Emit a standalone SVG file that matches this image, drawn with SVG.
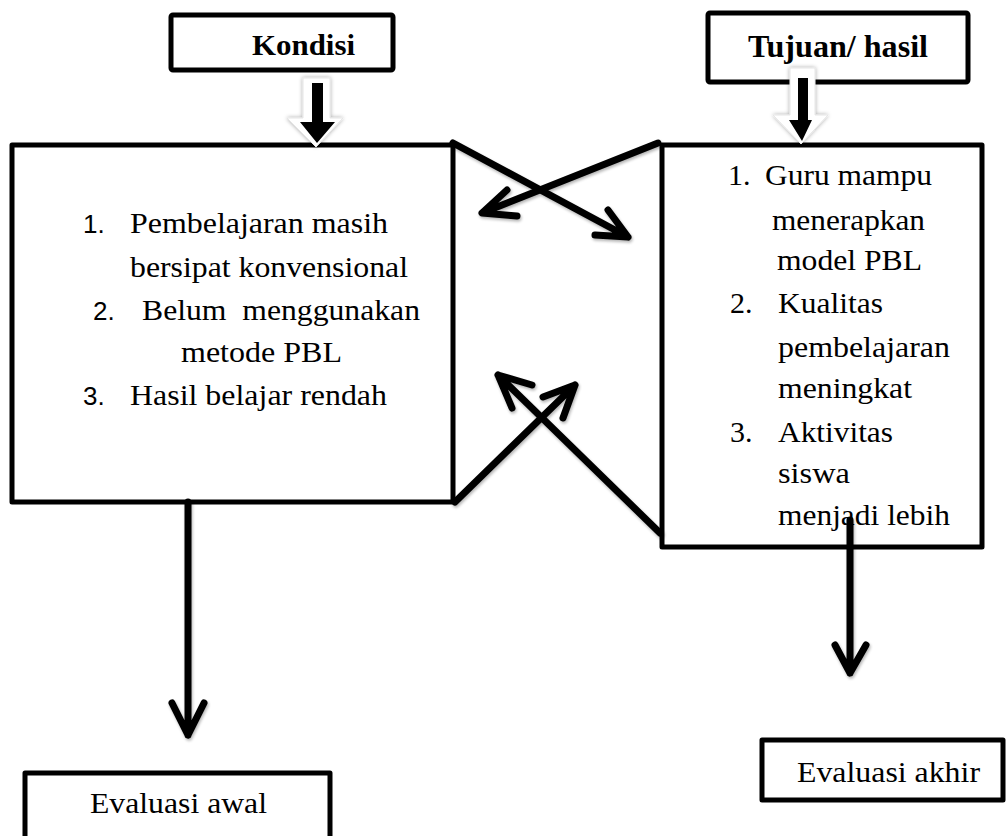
<svg xmlns="http://www.w3.org/2000/svg" width="1007" height="836" viewBox="0 0 1007 836">
<defs>
<filter id="glow" x="-30%" y="-30%" width="160%" height="160%">
<feGaussianBlur in="SourceAlpha" stdDeviation="2"/>
<feComponentTransfer><feFuncA type="linear" slope="0.35"/></feComponentTransfer>
<feMerge><feMergeNode/><feMergeNode in="SourceGraphic"/></feMerge>
</filter>
<filter id="shadow" x="-10%" y="-10%" width="120%" height="120%">
<feGaussianBlur in="SourceAlpha" stdDeviation="1.5"/>
<feOffset dx="1" dy="2"/>
<feComponentTransfer><feFuncA type="linear" slope="0.3"/></feComponentTransfer>
<feMerge><feMergeNode/><feMergeNode in="SourceGraphic"/></feMerge>
</filter>
</defs>
<style>
.box{fill:#fff;stroke:#000;stroke-width:5;stroke-linejoin:round}
.t{font-family:'Liberation Serif';font-size:30px;fill:#000;white-space:pre}
.b{font-weight:bold}
.n{font-family:'Liberation Sans';font-size:26px;fill:#000}
.c{fill:none;stroke:#000;stroke-width:7;stroke-linecap:round;stroke-linejoin:round}
</style>
<rect width="1007" height="836" fill="#fff"/>

<g id="kondisi">
<rect class="box" x="171" y="15" width="222" height="55" rx="2"/>
<text class="t b" x="252" y="55" textLength="103" lengthAdjust="spacingAndGlyphs">Kondisi</text>
</g>

<g id="tujuan">
<rect class="box" x="708" y="13" width="260" height="69" rx="2"/>
<text class="t b" x="748" y="57" style="font-size:32px" textLength="180" lengthAdjust="spacingAndGlyphs">Tujuan/ hasil</text>
</g>

<g id="kondisi-list">
<rect class="box" x="12" y="145" width="441" height="357"/>
<text class="n" x="83" y="233">1.</text>
<text class="t" x="130" y="233" textLength="258" lengthAdjust="spacingAndGlyphs">Pembelajaran masih</text>
<text class="t" x="130" y="277" textLength="278" lengthAdjust="spacingAndGlyphs">bersipat konvensional</text>
<text class="n" x="93" y="320">2.</text>
<text class="t" x="142" y="320" textLength="278" lengthAdjust="spacingAndGlyphs">Belum  menggunakan</text>
<text class="t" x="181" y="362" textLength="161" lengthAdjust="spacingAndGlyphs">metode PBL</text>
<text class="n" x="83" y="405">3.</text>
<text class="t" x="130" y="405" textLength="257" lengthAdjust="spacingAndGlyphs">Hasil belajar rendah</text>
</g>

<g id="tujuan-list">
<rect class="box" x="662" y="145" width="320" height="402"/>
<text class="t" x="728" y="185">1.</text>
<text class="t" x="765" y="185" textLength="167" lengthAdjust="spacingAndGlyphs">Guru mampu</text>
<text class="t" x="772" y="230" textLength="153" lengthAdjust="spacingAndGlyphs">menerapkan</text>
<text class="t" x="777" y="270" textLength="145" lengthAdjust="spacingAndGlyphs">model PBL</text>
<text class="t" x="730" y="313">2.</text>
<text class="t" x="778" y="313" textLength="105" lengthAdjust="spacingAndGlyphs">Kualitas</text>
<text class="t" x="778" y="357" textLength="172" lengthAdjust="spacingAndGlyphs">pembelajaran</text>
<text class="t" x="778" y="398" textLength="134" lengthAdjust="spacingAndGlyphs">meningkat</text>
<text class="t" x="730" y="442">3.</text>
<text class="t" x="778" y="442" textLength="115" lengthAdjust="spacingAndGlyphs">Aktivitas</text>
<text class="t" x="778" y="483" textLength="72" lengthAdjust="spacingAndGlyphs">siswa</text>
<text class="t" x="778" y="525" textLength="172" lengthAdjust="spacingAndGlyphs">menjadi lebih</text>
</g>

<g id="evaluasi-awal">
<rect class="box" x="25" y="773" width="305" height="90"/>
<text class="t" x="90" y="813" textLength="177" lengthAdjust="spacingAndGlyphs">Evaluasi awal</text>
</g>

<g id="evaluasi-akhir">
<rect class="box" x="762" y="740" width="241" height="60"/>
<text class="t" x="797" y="782" textLength="183" lengthAdjust="spacingAndGlyphs">Evaluasi akhir</text>
</g>

<g id="connectors">
<g filter="url(#glow)">
<path d="M303 78 H330 V118 H343 L316 147 L287 118 H303 Z" fill="#fff" stroke="#e6e6e6" stroke-width="1"/>
<path d="M790 68 H815 V115 H828 L801 144 L773 115 H790 Z" fill="#fff" stroke="#e6e6e6" stroke-width="1"/>
</g>
<path d="M312 83 H323 V122 H335 L317 143 L300 122 H312 Z" fill="#000"/>
<path d="M798 78 H808 V120 H812 L802 141 L789 120 H798 Z" fill="#000"/>
<g filter="url(#shadow)">
<path class="c" d="M453 143 L628 237 M608 210 L628 237 L595 235"/>
<path class="c" d="M658 143 L482 213 M507 190 L482 213 L517 216"/>
<path class="c" d="M455 502 L575 385 M543 397 L575 385 L563 418"/>
<path class="c" d="M660 533 L498 375 M532 385 L498 375 L512 408"/>
<path class="c" d="M188 502 V735 M172 703 L188 735 L204 703"/>
<path class="c" d="M850 520 V673 M835 645 L850 673 L866 645"/>
</g>
</g>
</svg>
